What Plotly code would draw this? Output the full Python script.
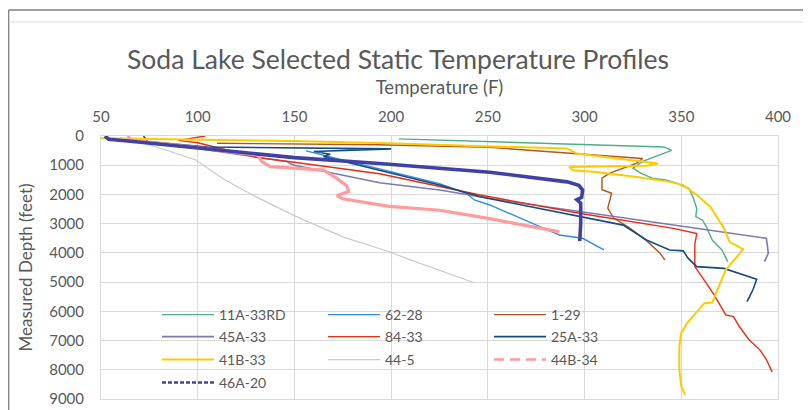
import plotly.graph_objects as go

# ---------------- data ----------------
series_names = ["11A-33RD", "62-28", "1-29", "45A-33", "84-33",
                "25A-33", "41B-33", "44-5", "44B-34", "46A-20"]

t_11a33rd = [204, 341, 345, 330, 325, 329, 335, 342, 347.5, 354, 356, 358, 357.5, 361, 363, 366, 371, 374]
d_11a33rd = [100, 375, 490, 870, 1100, 1270, 1440, 1500, 1610, 1800, 2080, 2480, 2760, 2880, 3110, 3560, 3900, 4300]

t_6228 = [156, 225, 239, 243, 251, 277, 287, 299, 310]
d_6228 = [510, 1630, 1960, 2190, 2360, 3110, 3390, 3500, 3900]

t_129 = [110, 193, 251, 330, 327, 313, 309, 309, 314, 312, 315, 323, 332, 339, 341.5]
d_129 = [250, 300, 390, 770, 930, 1270, 1440, 1840, 1960, 2470, 2810, 3130, 3580, 4010, 4240]

t_45a33 = [55, 100, 146, 148, 150, 194, 225, 260, 394, 395, 393]
d_45a33 = [120, 430, 870, 950, 1000, 1600, 1850, 2230, 3500, 4010, 4300]

t_8433 = [104, 90, 100, 131, 148, 194, 246, 298, 346, 358, 357, 357, 363, 367, 373, 377, 380, 385, 390.5, 394, 397]
d_8433 = [0, 150, 230, 740, 880, 1290, 2020, 2650, 3160, 3340, 3700, 4470, 5040, 5440, 6120, 6180, 6520, 6970, 7310, 7650, 8080]

t_25a33 = [72, 74, 105, 200, 160, 168.5, 165, 225, 246, 298, 320, 332, 344, 351, 353.5, 358, 372, 389, 387, 384]
d_25a33 = [0, 190, 375, 440, 530, 625, 700, 1680, 2080, 2760, 3050, 3560, 3900, 3930, 4180, 4470, 4530, 4900, 5270, 5670]

t_41b33 = [50, 150, 194, 291, 296, 329, 338, 332, 292, 294, 306, 327, 344, 351, 358, 365, 372, 375, 382,
           373, 367, 366, 362, 358, 353, 350, 349, 349, 350, 352]
d_41b33 = [80, 170, 240, 430, 600, 850, 940, 1020, 1060, 1170, 1230, 1400, 1570, 1680, 2020, 2420, 3160, 3620, 3880,
           4580, 5550, 5700, 5720, 6010, 6400, 6740, 7200, 8000, 8570, 8850]

t_445 = [60, 69, 78, 99, 112.5, 128, 140, 151, 175, 199, 210, 243]
d_445 = [60, 210, 360, 820, 1440, 2010, 2410, 2760, 3450, 3960, 4240, 5020]

t_44b34 = [64, 65, 100, 131, 133, 137.5, 150, 165, 172, 177, 178, 172, 175, 199, 225, 251, 287]
d_44b34 = [0, 140, 400, 650, 870, 1050, 1100, 1170, 1450, 1700, 1900, 2040, 2150, 2410, 2540, 2830, 3280]

t_46a20 = [52, 54, 64, 150, 194, 251, 291, 297, 299, 298.5, 296, 298, 298, 297.5]
d_46a20 = [0, 110, 170, 740, 940, 1240, 1570, 1690, 1850, 2100, 2180, 2300, 3000, 3600]

x_ticks = [50, 100, 150, 200, 250, 300, 350, 400]
y_ticks = [0, 1000, 2000, 3000, 4000, 5000, 6000, 7000, 8000, 9000]

# ---------------- styling ----------------
temps = [t_11a33rd, t_6228, t_129, t_45a33, t_8433, t_25a33, t_41b33, t_445, t_44b34, t_46a20]
depths = [d_11a33rd, d_6228, d_129, d_45a33, d_8433, d_25a33, d_41b33, d_445, d_44b34, d_46a20]
colors = ["#4DAF85", "#2B8FE3", "#B0561C", "#7C79B3", "#EC2A10",
          "#134B85", "#FFCA00", "#CACACA", "#FF9B9B", "#3F41A9"]
widths = [1.4, 1.4, 1.4, 1.6, 1.4, 1.6, 2.0, 1.2, 3.2, 3.6]
legend_ids = ["legend", "legend", "legend", "legend2", "legend2", "legend2",
              "legend3", "legend3", "legend3", "legend4"]
legend_dash = [None] * 8 + ["10px,6px", "4px,2px"]

FONT = "Lato"
GRAY = "#595959"

fig = go.Figure()
for name, t, d, c, w, lg, dash in zip(series_names, temps, depths, colors, widths, legend_ids, legend_dash):
    fig.add_trace(go.Scatter(x=t, y=d, mode="lines", name=name,
                             line=dict(color=c, width=w),
                             legend=lg, showlegend=dash is None, hoverinfo="skip"))
# legend entries for series that are dashed in the legend
for name, c, lg, dash in zip(series_names, colors, legend_ids, legend_dash):
    if dash is not None:
        fig.add_trace(go.Scatter(x=[None], y=[None], mode="lines", name=name,
                                 line=dict(color=c, width=2.5, dash=dash),
                                 legend=lg, showlegend=True))

# the page body has an 8px default margin, so the figure is 8px smaller and
# all page positions below are shifted by OFF
OFF = 8
W, H = 811 - OFF, 410 - OFF
L, R, T, B = 101 - OFF, 33, 136 - OFF, 11
pw, ph = W - L - R, H - T - B


def px_x(p):  # page pixel -> paper x
    return (p - OFF - L) / pw


def px_y(p):  # page pixel -> paper y
    return (H - B - (p - OFF)) / ph


legend_common = dict(orientation="h", xanchor="left", yanchor="middle",
                     entrywidth=99, entrywidthmode="pixels", itemwidth=52,
                     bgcolor="rgba(0,0,0,0)", traceorder="normal",
                     font=dict(family=FONT, size=14, color=GRAY))
lx = px_x(157)
rows = [315, 337, 360, 383]

fig.update_layout(
    width=W, height=H,
    margin=dict(l=L, r=R, t=T, b=B, autoexpand=False),
    paper_bgcolor="white", plot_bgcolor="white",
    font=dict(family=FONT, color=GRAY),
    title=dict(text="Soda Lake Selected Static Temperature Profiles",
               x=(398 - OFF) / W, xanchor="center", automargin=False,
               y=1 - (60 - OFF) / H, yanchor="middle",
               font=dict(family=FONT, size=26.5, color=GRAY)),
    legend=dict(x=lx, y=px_y(rows[0]), **legend_common),
    legend2=dict(x=lx, y=px_y(rows[1]), **legend_common),
    legend3=dict(x=lx, y=px_y(rows[2]), **legend_common),
    legend4=dict(x=lx, y=px_y(rows[3]), **legend_common),
    xaxis=dict(side="top", range=[50, 400], tickvals=x_ticks, automargin=False,
               showgrid=True, gridcolor="#D9D9D9", gridwidth=1,
               showline=True, mirror=True, linecolor="#D9D9D9", linewidth=1,
               zeroline=False, ticks="outside", ticklen=7, tickcolor="rgba(0,0,0,0)",
               tickfont=dict(family=FONT, size=15, color=GRAY),
               title=dict(text="Temperature (F)", standoff=7,
                          font=dict(family=FONT, size=18.5, color=GRAY))),
    yaxis=dict(range=[9000, 0], tickvals=y_ticks, automargin=False,
               showgrid=True, gridcolor="#D9D9D9", gridwidth=1,
               showline=True, mirror=True, linecolor="#D9D9D9", linewidth=1,
               zeroline=False, ticks="outside", ticklen=13, tickcolor="rgba(0,0,0,0)",
               tickfont=dict(family=FONT, size=15, color=GRAY),
               title=dict(text="Measured Depth (feet)", standoff=12,
                          font=dict(family=FONT, size=17, color=GRAY))),
    shapes=[
        dict(type="line", xref="paper", yref="paper", x0=px_x(8.7), x1=px_x(830),
             y0=px_y(10), y1=px_y(10), line=dict(color="#7F7F7F", width=1.3)),
        dict(type="line", xref="paper", yref="paper", x0=px_x(8.7), x1=px_x(8.7),
             y0=px_y(10), y1=px_y(430), line=dict(color="#7F7F7F", width=1.3)),
        dict(type="line", xref="paper", yref="paper", x0=px_x(9), x1=px_x(830),
             y0=px_y(22), y1=px_y(22), line=dict(color="#D9D9D9", width=1)),
    ],
)

fig.write_html("out.html")
